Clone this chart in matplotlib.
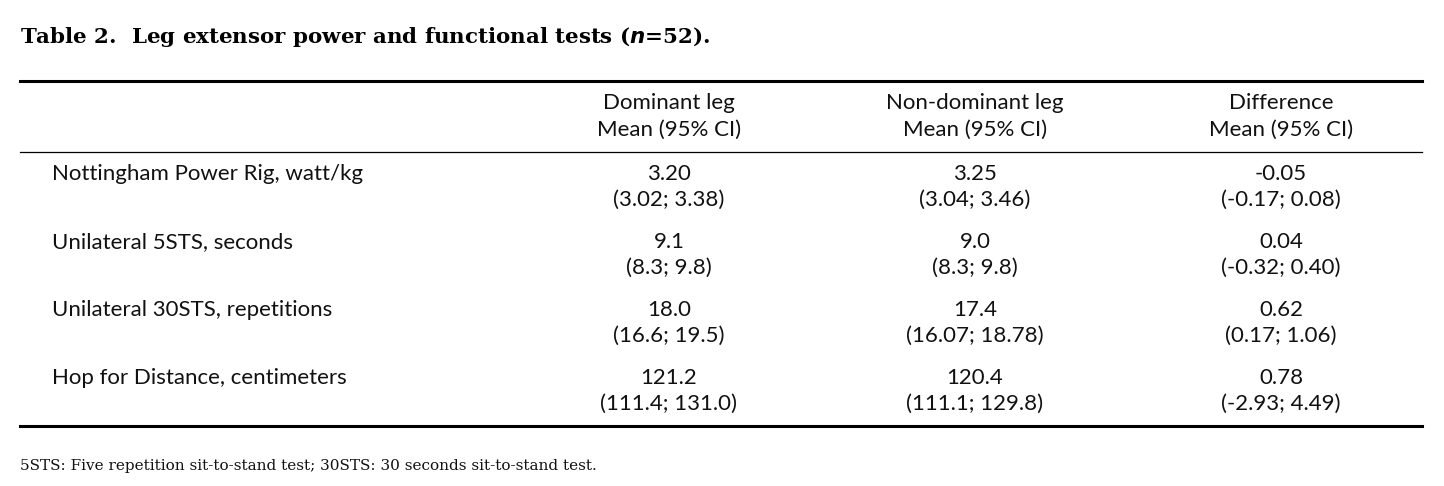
import matplotlib.pyplot as plt

# -----------------------------
# Table data
# -----------------------------
title = "Table 2.  Leg extensor power and functional tests ($\\mathbfit{n}$=52)."
col_heads = ["Dominant leg", "Non-dominant leg", "Difference"]
col_sub = "Mean (95% CI)"
row_labels = [
    "Nottingham Power Rig, watt/kg",
    "Unilateral 5STS, seconds",
    "Unilateral 30STS, repetitions",
    "Hop for Distance, centimeters",
]
dominant_mean = ["3.20", "9.1", "18.0", "121.2"]
dominant_ci = ["(3.02; 3.38)", "(8.3; 9.8)", "(16.6; 19.5)", "(111.4; 131.0)"]
nondom_mean = ["3.25", "9.0", "17.4", "120.4"]
nondom_ci = ["(3.04; 3.46)", "(8.3; 9.8)", "(16.07; 18.78)", "(111.1; 129.8)"]
diff_mean = ["-0.05", "0.04", "0.62", "0.78"]
diff_ci = ["(-0.17; 0.08)", "(-0.32; 0.40)", "(0.17; 1.06)", "(-2.93; 4.49)"]
footnote = "5STS: Five repetition sit-to-stand test; 30STS: 30 seconds sit-to-stand test."

# -----------------------------
# Layout (pixels)
# -----------------------------
W, H = 1444, 486
fig = plt.figure(figsize=(W / 100, H / 100), dpi=100)
fig.patch.set_facecolor("white")
ax = fig.add_axes([0, 0, 1, 1])
ax.set_xlim(0, W)
ax.set_ylim(H, 0)
ax.axis("off")

BODY = dict(family="Lato", fontsize=16, color="#111111", va="center")
col_x = [669, 975, 1281]

ax.text(20, 37, title, family="DejaVu Serif", fontsize=15.4, fontweight="bold",
        va="center", ha="left", color="black")

ax.plot([20, 1422], [81, 81], color="black", lw=2.2)
ax.plot([20, 1422], [152, 152], color="black", lw=0.9)
ax.plot([20, 1422], [426, 426], color="black", lw=2.2)

for x, head in zip(col_x, col_heads):
    ax.text(x, 103, head, ha="center", **BODY)
    ax.text(x, 130, col_sub, ha="center", **BODY)

cols = [(dominant_mean, dominant_ci), (nondom_mean, nondom_ci), (diff_mean, diff_ci)]
for i, label in enumerate(row_labels):
    y = 174 + i * 68
    ax.text(52, y, label, ha="left", **BODY)
    for x, (means, cis) in zip(col_x, cols):
        ax.text(x, y, means[i], ha="center", **BODY)
        ax.text(x, y + 26, cis[i], ha="center", **BODY)

ax.text(20, 466, footnote, family="DejaVu Serif", fontsize=11, va="center",
        ha="left", color="#111111")

fig.savefig("out.png", dpi=100, facecolor="white")
